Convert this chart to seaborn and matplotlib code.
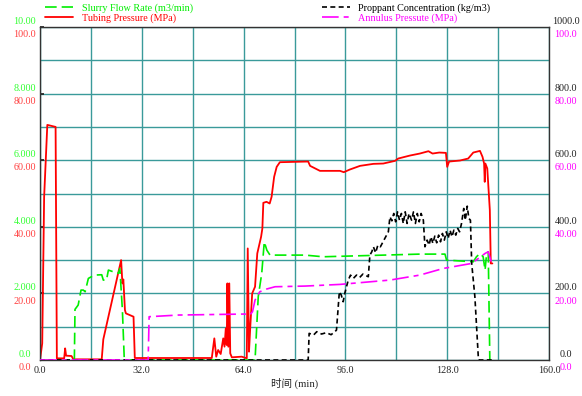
import numpy as np
import pandas as pd
import matplotlib
matplotlib.use("Agg")
import matplotlib.pyplot as plt
from matplotlib.lines import Line2D
import seaborn as sns

# time (min) and values
tubing_t = [0, 0.7, 1.3, 2.3, 4.9, 5.3, 7.6, 7.9, 8.2, 9.9, 10.5, 19.4, 19.9, 25.5, 25.9, 26.2,
            26.7, 27.0, 29.4, 29.8, 54.0, 54.8, 55.4, 56.0, 56.8, 57.6, 58.0, 58.4, 58.7, 58.9,
            59.2, 59.5, 59.8, 60.3, 63.4, 65.0, 65.3, 65.7, 66.1, 66.7, 67.6, 68.3, 69.5, 69.9,
            70.2, 71.2, 72.2, 72.8, 73.6, 74.4, 75.4, 84.3, 84.9, 88.0, 94.3, 95.5, 97.4, 100.6,
            104.8, 107.9, 111.6, 112.6, 116.3, 119.4, 122.1, 123.4, 125.5, 127.6, 128.0, 128.6,
            132.0, 134.6, 136.2, 138.3, 139.1, 139.6, 139.8, 140.0, 140.6, 141.4, 141.7, 142.2]
tubing_p = [0, 5, 49, 70.6, 70, 0.5, 0.5, 3.5, 1.3, 1.2, 0.2, 0.2, 6.2, 30, 23, 24.2,
            15, 14, 13, 0.6, 0.6, 6.5, 1.0, 3.0, 1.8, 6.5, 4.0, 9.5, 4.5, 23,
            4.0, 23, 2.0, 0.8, 1.0, 0.5, 33.5, 2.5, 10, 20, 22, 32, 37, 39.5,
            47.2, 47.5, 47, 49, 55, 58, 59.4, 59.6, 58.3, 56.8, 56.8, 56.4, 57.2, 58.3,
            58.9, 59.0, 59.8, 60.5, 61.4, 62.0, 62.7, 62.0, 62.3, 62.2, 58.0, 59.6,
            59.9, 60.5, 62.3, 62.8, 61.0, 59.0, 53.5, 59.0, 57.5, 45, 29, 29]

slurry_t = [0, 10.8, 11.0, 12.0, 12.9, 13.6, 14.2, 15.2, 17.1, 19.4, 19.9, 20.9, 21.5, 23.0,
            24.6, 25.1, 25.9, 26.5, 67.6, 68.6, 69.7, 70.5, 71.3, 72.3, 83.3, 89.0, 119.4,
            127.3, 127.8, 136.2, 137.2, 138.3, 139.3, 139.9, 140.3, 140.9, 141.4]
slurry_q = [0, 0, 1.52, 1.65, 2.1, 2.1, 2.05, 2.45, 2.55, 2.56, 2.4, 2.4, 2.7, 2.65,
            2.6, 2.75, 1.5, 0, 0, 1.9, 2.6, 3.55, 3.3, 3.15, 3.15, 3.1, 3.18,
            3.18, 3.0, 2.95, 3.1, 3.2, 3.1, 2.7, 3.1, 3.25, 0]

prop_t = [0, 84.3, 84.6, 86.0, 87.0, 88.5, 90.0, 91.5, 92.7, 93.2, 94.1, 94.7, 95.3, 95.8,
          96.9, 97.6, 98.5, 99.5, 100.5, 101.5, 103.2, 103.7, 104.3, 104.8, 105.5, 106.2,
          107.0, 109.5, 110.0, 110.6, 111.2, 111.8, 112.4, 113.0, 113.6, 114.2, 114.8, 115.4,
          116.0, 116.8, 117.4, 118.0, 118.6, 119.2, 119.8, 120.5, 121.0, 121.7, 122.3, 122.9,
          123.5, 124.1, 124.7, 125.3, 125.9, 126.5, 127.1, 127.7, 128.3, 128.9, 129.5, 130.1,
          130.7, 131.3, 131.9, 132.5, 133.2, 133.7, 134.3, 134.8, 135.3, 135.7, 136.7, 137.8,
          138.0, 142.0]
prop_c = [0, 0, 80, 75, 85, 78, 82, 76, 85, 90, 205, 195, 175, 200,
          240, 255, 245, 255, 248, 258, 250, 315, 325, 340, 322, 345,
          340, 385, 430, 418, 440, 415, 445, 420, 440, 410, 445, 410,
          440, 420, 445, 410, 440, 415, 440, 420, 340, 360, 345, 370,
          350, 372, 352, 375, 355, 380, 360, 385, 365, 390, 370, 390,
          375, 395, 385, 410, 455, 420, 462, 425, 420, 290, 190, 5,
          0, 0]

annulus_t = [0, 34.0, 34.3, 43.5, 64.4, 66.0, 66.8, 67.6, 69.1, 71.2, 73.9, 83.3, 94.3,
             110.0, 119.4, 126.8, 135.7, 139.9, 140.9, 142.0]
annulus_p = [0, 0, 13, 13.5, 13.8, 13.5, 14.5, 18, 20.5, 21.3, 22, 22.2, 22.7,
             24, 25.5, 27.5, 29, 32, 32.5, 29]

x_ticks = [0, 32, 64, 96, 128, 160]
left_ticks = [0, 20, 40, 60, 80, 100]
green_labels = ["0.0", "2.000", "4.000", "6.000", "8.000", "10.00"]
red_labels = ["0.0", "20.00", "40.00", "60.00", "80.00", "100.0"]
black_labels = ["0.0", "200.0", "400.0", "600.0", "800.0", "1000.0"]
mag_labels = ["0.0", "20.00", "40.00", "60.00", "80.00", "100.0"]

GREEN = "#00ee00"
RED = "#ff0000"
MAG = "#ff00ff"
GRID = "#3a9a9a"
FS = 7.3

sns.set_theme(style="white")
plt.rcParams["font.family"] = ["Liberation Serif", "Noto Sans CJK SC", "DejaVu Sans"]

fig = plt.figure(figsize=(5.82, 3.96), dpi=100)
ax = fig.add_axes([40 / 582, 1 - 360 / 396, 509 / 582, 333 / 396])
ax_q = ax.twinx()
ax_c = ax.twinx()
ax_a = ax.twinx()

ax.set_xlim(0, 160)
ax.set_ylim(0, 100)
ax_q.set_ylim(0, 10)
ax_c.set_ylim(0, 1000)
ax_a.set_ylim(0, 100)

ax.set_xticks(np.arange(0, 161, 16), minor=True)
ax.set_yticks(np.arange(0, 101, 10), minor=True)
ax.set_xticks(x_ticks)
ax.set_xticklabels(["%.1f" % v for v in x_ticks], fontsize=FS)
ax.set_yticks(left_ticks)
ax.set_yticklabels([])
ax.grid(which="both", color=GRID, lw=1.0)
ax.set_axisbelow(True)
ax.tick_params(axis="y", which="major", length=3, direction="in", color="#222222")
ax.tick_params(axis="x", which="major", length=0, pad=4)
ax.tick_params(which="minor", length=0)

for a in (ax_q, ax_c, ax_a):
    a.set_yticks([])
    a.grid(False)
    for s in a.spines.values():
        s.set_visible(False)
for s in ax.spines.values():
    s.set_color("#333333")
    s.set_linewidth(1.0)

df_a = pd.DataFrame({"t": annulus_t, "p": annulus_p})
df_c = pd.DataFrame({"t": prop_t, "c": prop_c})
df_q = pd.DataFrame({"t": slurry_t, "q": slurry_q})
df_p = pd.DataFrame({"t": tubing_t, "p": tubing_p})

sns.lineplot(data=df_a, x="t", y="p", ax=ax_a, color=MAG, lw=1.2,
             linestyle=(0, (10, 3, 3, 3)), estimator=None, sort=False)
sns.lineplot(data=df_c, x="t", y="c", ax=ax_c, color="black", lw=1.2,
             linestyle=(0, (3, 2)), estimator=None, sort=False)
sns.lineplot(data=df_q, x="t", y="q", ax=ax_q, color=GREEN, lw=1.2,
             linestyle=(0, (7, 3)), estimator=None, sort=False)
sns.lineplot(data=df_p, x="t", y="p", ax=ax, color=RED, lw=1.3,
             estimator=None, sort=False)

for a in (ax_q, ax_c, ax_a):
    a.set_xlim(0, 160)
    a.set_xlabel("")
    a.set_ylabel("")
ax.set_ylabel("")
ax.set_xlabel("时间 (min)", fontsize=FS + 0.3, labelpad=2)

# paired tick labels on both sides
for v, g, r, b, m in zip(left_ticks, green_labels, red_labels, black_labels, mag_labels):
    ax.annotate(g, (-0.03, v), xycoords=("axes fraction", "data"), xytext=(0, 4),
                textcoords="offset points", ha="center", va="center", color="#33ff33",
                fontsize=FS, annotation_clip=False)
    ax.annotate(r, (-0.03, v), xycoords=("axes fraction", "data"), xytext=(0, -5.5),
                textcoords="offset points", ha="center", va="center", color="#ff4040",
                fontsize=FS, annotation_clip=False)
    ax.annotate(b, (1.033, v), xycoords=("axes fraction", "data"), xytext=(0, 4),
                textcoords="offset points", ha="center", va="center", color="#222222",
                fontsize=FS, annotation_clip=False)
    ax.annotate(m, (1.033, v), xycoords=("axes fraction", "data"), xytext=(0, -5.5),
                textcoords="offset points", ha="center", va="center", color=MAG,
                fontsize=FS, annotation_clip=False)

h_left = [Line2D([], [], color=GREEN, lw=1.2, linestyle=(0, (7, 3))),
          Line2D([], [], color=RED, lw=1.3)]
h_right = [Line2D([], [], color="black", lw=1.2, linestyle=(0, (3, 2))),
           Line2D([], [], color=MAG, lw=1.2, linestyle=(0, (10, 3, 3, 3)))]
leg_kw = dict(frameon=False, fontsize=FS, handlelength=2.8, handletextpad=0.8,
              labelspacing=0.08, borderaxespad=0, borderpad=0)
fig.legend(h_left, ["Slurry Flow Rate (m3/min)", "Tubing Pressure (MPa)"],
           loc="upper left", bbox_to_anchor=(45 / 582, 1 - 3 / 396), labelcolor=[GREEN, RED],
           **leg_kw)
fig.legend(h_right, ["Proppant Concentration (kg/m3)", "Annulus Pressute (MPa)"],
           loc="upper left", bbox_to_anchor=(322 / 582, 1 - 3 / 396),
           labelcolor=["black", MAG], **leg_kw)

fig.savefig("out.png", dpi=100)
